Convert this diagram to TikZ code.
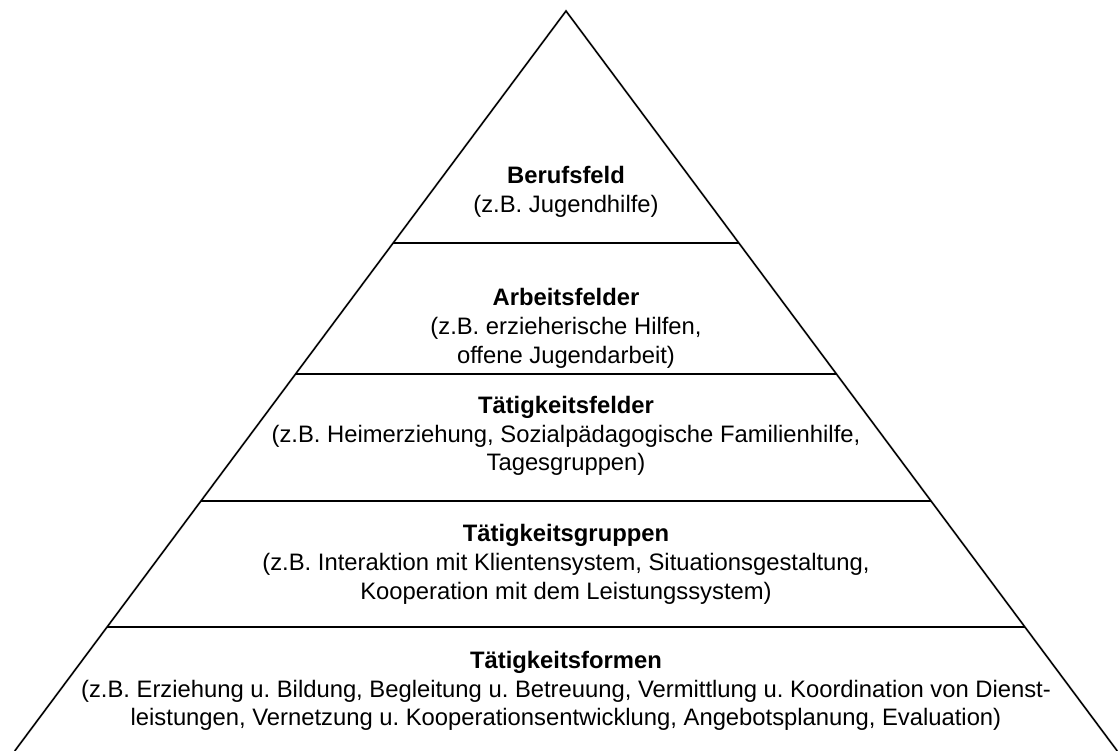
\documentclass[tikz,border=0pt]{standalone}
\usepackage{fontspec}
\setmainfont{Liberation Sans}
\begin{document}
\frenchspacing
\begin{tikzpicture}[x=1pt,y=-1pt,
  edge/.style={line width=1.5pt,black},
  shade/.style={line width=2.5pt,black!12},
  level/.style={align=center,inner sep=0pt,font=\fontsize{23.8}{28.8}\selectfont}]
\useasboundingbox (0,0) rectangle (1120,751);
\def\cx{566}\def\ay{11}\def\sl{0.745}
\coordinate (A) at (\cx,\ay);
\coordinate (BL) at ({\cx-\sl*(751-\ay)},751);
\coordinate (BR) at ({\cx+\sl*(751-\ay)},751);
\foreach \n/\y in {1/243,2/374,3/501,4/627}{
  \coordinate (L\n) at ({\cx-\sl*(\y-\ay)},\y);
  \coordinate (R\n) at ({\cx+\sl*(\y-\ay)},\y);
}
% shadows
\begin{scope}[shift={(1.5,2)}]
\draw[shade] (BL) -- (A) -- (BR);
\foreach \n in {1,2,3,4}{\draw[shade] (L\n) -- (R\n);}
\end{scope}
% lines
\draw[edge,line join=miter] (BL) -- (A) -- (BR);
\foreach \n in {1,2,3,4}{\draw[edge] (L\n) -- (R\n);}
% texts
\node[level] (t1) at (\cx,192) {\textbf{Berufsfeld}\\(z.B. Jugendhilfe)};
\node[level] (t2) at (\cx,328.5) {\textbf{Arbeitsfelder}\\(z.B. erzieherische Hilfen,\\offene Jugendarbeit)};
\node[level] (t3) at (\cx,436) {\textbf{Tätigkeitsfelder}\\(z.B. Heimerziehung, Sozialpädagogische Familienhilfe,\\Tagesgruppen)};
\node[level] (t4) at (\cx,564.5) {\textbf{Tätigkeitsgruppen}\\(z.B. Interaktion mit Klientensystem, Situationsgestaltung,\\Kooperation mit dem Leistungssystem)};
\node[level] (t5) at (\cx,691) {\textbf{Tätigkeitsformen}\\(z.B. Erziehung u. Bildung, Begleitung u. Betreuung, Vermittlung u. Koordination von Dienst-\\leistungen, Vernetzung u. Kooperationsentwicklung, Angebotsplanung, Evaluation)};
\end{tikzpicture}
\end{document}
